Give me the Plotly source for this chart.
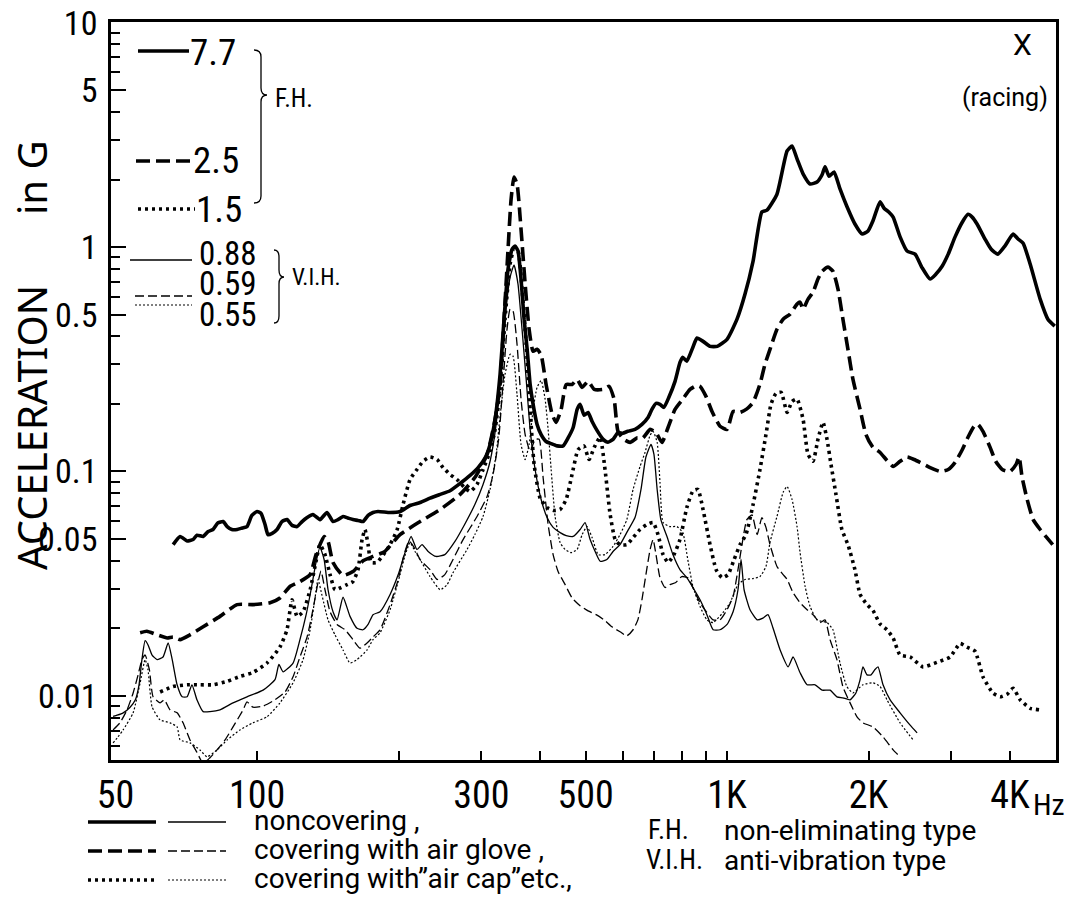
import numpy as np
import plotly.graph_objects as go

# ---------------- data (frequency in Hz, acceleration in G) ----------------
# F.H. (non-eliminating type) - noncovering (thick solid)
fh_nc_freq = [66.3, 68.6, 71.0, 73.1, 74.5, 76.8, 78.7, 80.6, 82.6, 84.7,
              86.4, 88.4, 90.7, 93.0, 95.2, 97.5, 100, 102, 104, 105.5,
              107.7, 110.3, 113, 115.8, 118.7, 121.7, 124.7, 127.8, 131.5, 136.1,
              140.9, 145.1, 148.7, 152.4, 156.1, 160, 164, 168.1, 172.3, 176.5,
              180.9, 191.9, 201.5, 211.6, 222.3, 233.4, 245.2, 257.4, 270.4, 284,
              295.4, 305.7, 313.2, 321, 328.9, 335.4, 342, 349, 353.9, 359.1,
              364.5, 370, 375.6, 381.1, 386.7, 394.3, 402.2, 412.1, 422.4, 434.9,
              448, 459, 470.5, 479.8, 486.8, 496.4, 506.2, 516.3, 529.2, 545,
              558, 572, 586, 600, 615, 637, 659, 679, 692, 706,
              720, 734, 752, 775, 794, 805, 821, 846, 863, 889,
              920, 953, 1000, 1050, 1092, 1136, 1186, 1216, 1277, 1342,
              1375, 1409, 1451, 1502, 1554, 1593, 1616, 1648, 1689, 1739,
              1798, 1871, 1939, 1995, 2044, 2116, 2158, 2211, 2256, 2334,
              2415, 2512, 2599, 2704, 2783, 2870, 2955, 3056, 3165, 3255,
              3323, 3403, 3538, 3644, 3767, 3900, 4060, 4160, 4265, 4414,
              4636, 4815, 4980]
fh_nc_acc = [0.0472, 0.0513, 0.049, 0.0497, 0.052, 0.0513, 0.054, 0.0551, 0.059, 0.0598,
             0.0568, 0.0551, 0.0551, 0.056, 0.0568, 0.0637, 0.0663, 0.065, 0.058, 0.0523,
             0.053, 0.0551, 0.0598, 0.061, 0.0575, 0.0568, 0.0598, 0.0623, 0.0643, 0.061,
             0.0656, 0.0598, 0.061, 0.063, 0.062, 0.061, 0.0605, 0.0598, 0.0637, 0.0656,
             0.0663, 0.0656, 0.0663, 0.0705, 0.0727, 0.076, 0.079, 0.082, 0.0884, 0.096,
             0.104, 0.115, 0.132, 0.171, 0.271, 0.477, 0.798, 0.98, 1.01, 0.96,
             0.72, 0.477, 0.35, 0.244, 0.199, 0.162, 0.146, 0.136, 0.133, 0.13,
             0.13, 0.141, 0.157, 0.189, 0.199, 0.178, 0.183, 0.167, 0.152, 0.139,
             0.135, 0.139, 0.149, 0.148, 0.151, 0.154, 0.162, 0.174, 0.189, 0.201,
             0.199, 0.193, 0.214, 0.252, 0.306, 0.323, 0.31, 0.358, 0.393, 0.38,
             0.361, 0.361, 0.388, 0.477, 0.617, 0.866, 1.433, 1.46, 1.72, 2.68,
             2.82, 2.47, 2.12, 1.91, 1.95, 2.1, 2.28, 2.07, 2.16, 1.815,
             1.52, 1.267, 1.143, 1.18, 1.31, 1.59, 1.49, 1.43, 1.36, 1.11,
             0.96, 0.93, 0.81, 0.72, 0.758, 0.823, 0.93, 1.11, 1.29, 1.40,
             1.36, 1.267, 1.086, 0.98, 0.93, 1.01, 1.143, 1.086, 1.04, 0.84,
             0.586, 0.477, 0.444]

# F.H. - covering with air glove (thick dashed)
fh_glove_freq = [56.4, 58.3, 61.3, 64.4, 66.3, 68.6, 72, 76.8, 83.4, 90.7,
                 98, 106.6, 111.9, 117.5, 123.4, 129.7, 133.5, 138.9, 141.6, 145.1,
                 152.4, 160, 168.1, 176.5, 187, 201.5, 222.3, 245.2, 270.4, 290.7,
                 308.7, 321, 328.9, 335.4, 342, 347.2, 352.2, 357.4, 364.5, 371.9,
                 379.2, 386.7, 394.3, 402.2, 412.1, 424.4, 432.8, 443.6, 454.7, 468,
                 479.8, 491.6, 506.2, 521.8, 545, 561, 575, 586, 603, 622,
                 643, 662, 686, 706, 727, 749, 775, 805, 834, 863,
                 876, 902, 929, 966, 1000, 1030, 1066, 1102, 1136, 1175,
                 1204, 1234, 1277, 1316, 1361, 1409, 1430, 1451, 1487, 1524,
                 1561, 1593, 1640, 1680, 1722, 1764, 1808, 1853, 1919, 1975,
                 2044, 2116, 2189, 2256, 2334, 2415, 2500, 2574, 2704, 2840,
                 2955, 3056, 3165, 3255, 3355, 3420, 3503, 3628, 3728, 3850,
                 4002, 4120, 4180, 4244, 4350, 4480, 4636, 4790, 4930]
fh_glove_acc = [0.0191, 0.0194, 0.0187, 0.0181, 0.0183, 0.0178, 0.0187, 0.0203, 0.0226, 0.0255,
                0.0255, 0.026, 0.0273, 0.0307, 0.0323, 0.0347, 0.0426, 0.0513, 0.0488, 0.0393,
                0.0344, 0.0358, 0.040, 0.0418, 0.044, 0.0523, 0.0598, 0.0677, 0.079, 0.094,
                0.119, 0.171, 0.244, 0.477, 0.98, 1.64, 2.05, 1.91, 1.20, 0.684,
                0.43, 0.343, 0.35, 0.33, 0.244, 0.18, 0.1655, 0.189, 0.244, 0.244,
                0.257, 0.237, 0.252, 0.232, 0.232, 0.2395, 0.21, 0.151, 0.139, 0.1347,
                0.141, 0.141, 0.154, 0.149, 0.1347, 0.157, 0.189, 0.21, 0.232, 0.242,
                0.2395, 0.216, 0.185, 0.159, 0.154, 0.185, 0.1834, 0.19, 0.203, 0.245,
                0.30, 0.35, 0.43, 0.477, 0.502, 0.557, 0.568, 0.529, 0.586, 0.63,
                0.72, 0.78, 0.814, 0.78, 0.649, 0.477, 0.35, 0.257, 0.189, 0.146,
                0.128, 0.1215, 0.112, 0.1053, 0.111, 0.116, 0.113, 0.1097, 0.104, 0.10,
                0.102, 0.1097, 0.125, 0.142, 0.159, 0.162, 0.151, 0.128, 0.111, 0.102,
                0.10, 0.1075, 0.116, 0.094, 0.075, 0.061, 0.0551, 0.0507, 0.0472]

# F.H. - covering with "air cap" etc. (thick dotted)
fh_cap_freq = [62.2, 66.3, 71, 75.6, 80.6, 86.4, 92, 98, 105, 111.9,
               115.8, 118.7, 121.7, 125.3, 129.7, 133.5, 136.1, 139.5, 143, 146.5,
               151, 155.4, 160, 164, 167.3, 169.7, 172.3, 174.8, 180, 185.8,
               191.9, 198.7, 204.5, 211.6, 218.9, 225.6, 233.4, 241.6, 248.8, 257.4,
               266.4, 276, 284, 293.8, 302.6, 313.2, 321, 328.9, 337, 345.5,
               352.2, 359.1, 366.3, 373.8, 381.1, 388.6, 400.2, 414.1, 428.6, 441.4,
               454.7, 468, 482, 496, 508.7, 521.6, 537, 550, 564, 578,
               592, 612, 631, 653, 675, 696, 713, 731, 749, 771,
               794, 821, 846, 867, 889, 920, 948, 976, 1005, 1035,
               1066, 1097, 1136, 1175, 1210, 1240, 1271, 1303, 1342, 1375,
               1409, 1451, 1487, 1524, 1561, 1600, 1632, 1664, 1705, 1755,
               1808, 1871, 1919, 1985, 2044, 2116, 2189, 2256, 2334, 2452,
               2611, 2796, 2983, 3132, 3238, 3370, 3503, 3676, 3811, 3950,
               4060, 4203, 4414, 4636]
fh_cap_acc = [0.0104, 0.011, 0.0112, 0.0112, 0.0112, 0.0116, 0.0122, 0.0127, 0.014, 0.0165,
              0.0197, 0.0268, 0.0226, 0.0237, 0.0297, 0.0397, 0.0472, 0.0426, 0.0347, 0.0297,
              0.0304, 0.0313, 0.0323, 0.0365, 0.0497, 0.0551, 0.0472, 0.0393, 0.0393, 0.0426,
              0.0472, 0.0551, 0.0712, 0.092, 0.102, 0.111, 0.116, 0.113, 0.104, 0.097,
              0.092, 0.085, 0.0814, 0.0875, 0.102, 0.123, 0.154, 0.232, 0.477, 0.84,
              0.98, 0.96, 0.649, 0.369, 0.189, 0.1075, 0.076, 0.069, 0.067, 0.0677,
              0.075, 0.097, 0.125, 0.13, 0.113, 0.128, 0.142, 0.102, 0.0643, 0.0497,
              0.0472, 0.0472, 0.0507, 0.0551, 0.058, 0.0592, 0.0523, 0.0426, 0.0393, 0.0426,
              0.0497, 0.069, 0.0818, 0.0831, 0.0677, 0.0472, 0.0365, 0.0336, 0.0347, 0.0405,
              0.0472, 0.0523, 0.0712, 0.102, 0.146, 0.199, 0.223, 0.2253, 0.1834, 0.205,
              0.21, 0.171, 0.119, 0.111, 0.139, 0.1655, 0.139, 0.1075, 0.079, 0.0551,
              0.0472, 0.0365, 0.0283, 0.0255, 0.024, 0.0209, 0.0197, 0.0181, 0.0152, 0.0149,
              0.01346, 0.0141, 0.0149, 0.0171, 0.0165, 0.0158, 0.01216, 0.0103, 0.0099, 0.0102,
              0.0108, 0.0096, 0.0088, 0.00866]

# V.I.H. (anti-vibration type) - noncovering (thin solid)
vih_nc_freq = [49.4, 50.4, 51.9, 53.7, 55.1, 56.1, 56.9, 57.8, 58.6, 59.8,
               61.3, 63.1, 64.7, 66, 67.6, 69.3, 71, 72.7, 74.5, 76.8,
               79.4, 83.4, 88.9, 95.2, 103, 109.2, 111.3, 113.6, 119.3, 123.4,
               127.2, 130.3, 133.5, 136.1, 138.9, 141.6, 145.1, 148, 152.4, 157.7,
               163.2, 168.1, 172.3, 176.5, 182.7, 191.9, 199.7, 206.5, 212.7, 218.9,
               224.4, 231.2, 240.4, 250.9, 263.7, 276.3, 290.7, 302.6, 313.2, 322.6,
               330.5, 338.6, 345.5, 352.2, 359.1, 366.3, 373.8, 381.1, 390.5, 402.2,
               414.1, 426.5, 441.4, 454.7, 470.5, 486.8, 498.8, 511.3, 524, 537,
               555, 572, 592, 615, 637, 656, 672, 689, 699, 710,
               723, 745, 767, 794, 821, 846, 876, 906, 934, 966,
               1000, 1030, 1055, 1071, 1087, 1119, 1159, 1192, 1222, 1252,
               1297, 1349, 1382, 1430, 1480, 1539, 1593, 1656, 1713, 1764,
               1827, 1880, 1919, 1946, 1985, 2025, 2064, 2095, 2147, 2223,
               2334, 2452, 2537]
vih_nc_acc = [0.0081, 0.0082, 0.0084, 0.0089, 0.0096, 0.0112, 0.0145, 0.0176, 0.0169, 0.0152,
              0.0145, 0.0149, 0.0172, 0.0145, 0.0112, 0.0099, 0.0099, 0.0112, 0.0096, 0.0085,
              0.0085, 0.00866, 0.0093, 0.0099, 0.0106, 0.0118, 0.0138, 0.0128, 0.014, 0.0178,
              0.023, 0.0297, 0.0393, 0.046, 0.0405, 0.0297, 0.0237, 0.0218, 0.0275, 0.0226,
              0.02, 0.0197, 0.0208, 0.023, 0.0237, 0.0283, 0.0347, 0.0435, 0.0513, 0.0449,
              0.0472, 0.044, 0.0418, 0.0426, 0.0488, 0.0579, 0.0712, 0.0875, 0.111, 0.162,
              0.285, 0.529, 0.735, 0.831, 0.684, 0.43, 0.257, 0.154, 0.102, 0.075,
              0.0623, 0.0563, 0.0534, 0.0518, 0.0513, 0.0551, 0.0592, 0.0497, 0.044, 0.0398,
              0.0405, 0.044, 0.0472, 0.0545, 0.0623, 0.0831, 0.116, 0.132, 0.119, 0.0831,
              0.061, 0.0513, 0.0426, 0.0365, 0.0336, 0.0304, 0.0268, 0.023, 0.0197, 0.0197,
              0.0208, 0.0237, 0.0297, 0.0405, 0.0297, 0.0242, 0.0218, 0.0222, 0.023, 0.0201,
              0.016, 0.01346, 0.0149, 0.01267, 0.0112, 0.0112, 0.0106, 0.0106, 0.0099, 0.0098,
              0.0096, 0.0103, 0.0118, 0.01346, 0.0124, 0.0124, 0.0131, 0.01346, 0.0112, 0.0096,
              0.0084, 0.0074, 0.00684]

# V.I.H. - covering with air glove (thin dashed)
vih_glove_freq = [49.4, 51.1, 52.9, 54.5, 55.9, 56.9, 57.8, 59, 60.1, 62.2,
                  63.5, 65.3, 67.6, 69.6, 72, 74.5, 76.8, 79.4, 82.2, 85.5,
                  88.9, 93.4, 95.2, 98, 103, 109.2, 114.7, 119.3, 123.4, 127.8,
                  131.5, 134.8, 136.8, 139.5, 143, 148, 153.9, 160, 165.6, 171.4,
                  176.5, 182.7, 191.9, 199.7, 205.5, 210.6, 215.8, 222.3, 233.4, 241.6,
                  250.9, 261.2, 274.4, 293.8, 308.7, 317.8, 326.6, 333.8, 340.3, 345.5,
                  350.5, 357.4, 364.5, 371.9, 381.1, 390.5, 398.3, 406.1, 416.2, 426.5,
                  437, 452.4, 468, 486.8, 506.2, 526.6, 547.6, 569, 592, 612,
                  631, 646, 659, 672, 686, 696, 706, 720, 738, 756,
                  778, 801, 825, 850, 876, 906, 934, 966, 1000, 1030,
                  1055, 1076, 1102, 1130, 1159, 1186, 1210, 1234, 1277, 1316,
                  1342, 1382, 1430, 1480, 1524, 1577, 1616, 1656, 1713, 1764,
                  1827, 1890, 1946, 2044, 2147, 2256, 2334]
vih_glove_acc = [0.00705, 0.00758, 0.00866, 0.0103, 0.0125, 0.0145, 0.0152, 0.0131, 0.0099, 0.0093,
                 0.0096, 0.00866, 0.0084, 0.00758, 0.00636, 0.0056, 0.0050, 0.0053, 0.00574, 0.00636,
                 0.00727, 0.00866, 0.0094, 0.0089, 0.009, 0.0096, 0.0104, 0.01216, 0.0149, 0.0183,
                 0.0242, 0.032, 0.036, 0.0297, 0.0237, 0.0208, 0.0197, 0.0178, 0.0163, 0.0172,
                 0.0183, 0.0197, 0.0255, 0.033, 0.0426, 0.049, 0.0459, 0.0405, 0.0365, 0.033,
                 0.0347, 0.0405, 0.0497, 0.063, 0.0773, 0.097, 0.139, 0.25, 0.43, 0.529,
                 0.518, 0.369, 0.21, 0.146, 0.123, 0.139, 0.139, 0.094, 0.058, 0.0426,
                 0.0358, 0.0313, 0.0273, 0.0252, 0.0239, 0.023, 0.0218, 0.0203, 0.0193, 0.0185,
                 0.0197, 0.0218, 0.0268, 0.0347, 0.0449, 0.0497, 0.0426, 0.0336, 0.0304, 0.0313,
                 0.032, 0.034, 0.0336, 0.0297, 0.026, 0.0235, 0.0218, 0.0218, 0.0242, 0.0277,
                 0.0365, 0.0472, 0.061, 0.064, 0.0523, 0.0623, 0.0563, 0.0472, 0.0377, 0.0347,
                 0.033, 0.0288, 0.026, 0.0242, 0.023, 0.0212, 0.0218, 0.0178, 0.0145, 0.01097,
                 0.0093, 0.00806, 0.00758, 0.00727, 0.00656, 0.00574, 0.00535]

# V.I.H. - covering with "air cap" etc. (thin dotted)
vih_cap_freq = [49.4, 50.6, 51.9, 54.5, 56.4, 57.8, 58.6, 59.8, 62.2, 65.3,
                67.6, 68.6, 72, 75.6, 78.3, 82.2, 86.4, 92, 98, 105,
                111.9, 119.3, 125.3, 129.7, 133, 134.8, 137.5, 141.6, 146.5, 152.4,
                157.7, 163.2, 171.4, 176.5, 182.7, 191.9, 201.5, 206.5, 211.6, 216.8,
                222.3, 233.4, 245.2, 253.7, 261.2, 279.8, 290.7, 302.6, 313.2, 322.6,
                328.9, 337, 345.5, 350.5, 357.4, 364.5, 371.9, 379.2, 386.7, 394.3,
                402.2, 410.1, 416.2, 422.4, 430.7, 441.4, 452.4, 465.9, 479.8, 491.6,
                503.7, 516.3, 532, 550, 572, 592, 612, 631, 653, 669,
                686, 696, 710, 720, 731, 756, 782, 805, 825, 846,
                876, 906, 934, 980, 1015, 1055, 1092, 1136, 1175, 1210,
                1234, 1277, 1316, 1342, 1375, 1409, 1430, 1466, 1502, 1554,
                1632, 1680, 1739, 1798, 1853, 1946, 2044, 2116, 2189, 2334,
                2488]
vih_cap_acc = [0.00617, 0.00656, 0.00705, 0.0084, 0.01143, 0.0145, 0.0131, 0.00893, 0.00781, 0.00758,
               0.00727, 0.00636, 0.00617, 0.00574, 0.00535, 0.00574, 0.00636, 0.00705, 0.00758, 0.00806,
               0.0093, 0.01143, 0.0145, 0.0197, 0.0277, 0.033, 0.028, 0.0218, 0.0187, 0.016,
               0.014, 0.0145, 0.016, 0.0178, 0.0191, 0.0242, 0.0347, 0.0422, 0.0482, 0.044,
               0.0405, 0.034, 0.0297, 0.0313, 0.0354, 0.0449, 0.0523, 0.063, 0.0831, 0.119,
               0.176, 0.271, 0.333, 0.326, 0.22, 0.132, 0.113, 0.132, 0.189, 0.237,
               0.254, 0.21, 0.154, 0.102, 0.063, 0.0482, 0.0449, 0.0435, 0.0449, 0.0523,
               0.0568, 0.0507, 0.0426, 0.0426, 0.0463, 0.0523, 0.061, 0.0831, 0.1053, 0.1215,
               0.145, 0.151, 0.1347, 0.0893, 0.0592, 0.0568, 0.0568, 0.0534, 0.0405, 0.0307,
               0.025, 0.0218, 0.0212, 0.0235, 0.026, 0.0313, 0.033, 0.0333, 0.034, 0.0377,
               0.0482, 0.063, 0.0806, 0.0857, 0.075, 0.0568, 0.0435, 0.0307, 0.025, 0.0218,
               0.0212, 0.0197, 0.014, 0.011, 0.0103, 0.0112, 0.01143, 0.011, 0.0096, 0.00758,
               0.00636]

# tick labels
x_tick_vals = [50, 100, 300, 500, 1000, 2000, 4000]
x_tick_text = ["50", "100", "300", "500", "1K", "2K", "4K"]
x_minor_vals = [100, 200, 300, 400, 500, 600, 700, 800, 900, 1000, 2000, 3000, 4000]
y_tick_vals = [0.01, 0.05, 0.1, 0.5, 1, 5, 10]
y_tick_text = ["0.01", "0.05", "0.1", "0.5", "1", "5", "10"]
y_minor_vals = [m * d for d in (0.001, 0.01, 0.1, 1) for m in range(2, 10) if m * d > 0.0052]

# legend values shown inside the chart
fh_labels = ["7.7", "2.5", "1.5"]
vih_labels = ["0.88", "0.59", "0.55"]
cover_labels = ["noncovering ,", "covering with air glove ,", "covering with\u201dair cap\u201detc.,"]

# ---------------- layout geometry (screen pixels) ----------------
OFF = 8                      # browser body margin
W, H = 1075 - OFF, 908 - OFF  # figure size
L, R, T, B = 111, 1056, 22, 760   # plot area on screen
COND = "Roboto Condensed, Roboto, sans-serif"
SANS = "Roboto, sans-serif"
TITLE = "Noto Sans, sans-serif"


def px(x):
    return (x - L) / (R - L)


def py(y):
    return (B - y) / (B - T)


THICK = 3.6
THIN = 1.3
styles = {
    "solid_thick": dict(width=THICK, dash="solid"),
    "dash_thick": dict(width=THICK, dash="14px,6px"),
    "dot_thick": dict(width=THICK, dash="3px,4px"),
    "solid_thin": dict(width=THIN, dash="solid"),
    "dash_thin": dict(width=THIN, dash="9px,4px"),
    "dot_thin": dict(width=1.2, dash="2px,2px"),
}

series = [
    (fh_nc_freq, fh_nc_acc, "solid_thick"),
    (fh_glove_freq, fh_glove_acc, "dash_thick"),
    (fh_cap_freq, fh_cap_acc, "dot_thick"),
    (vih_nc_freq, vih_nc_acc, "solid_thin"),
    (vih_glove_freq, vih_glove_acc, "dash_thin"),
    (vih_cap_freq, vih_cap_acc, "dot_thin"),
]

fig = go.Figure()
for fx, ay, st in series:
    fig.add_trace(go.Scatter(
        x=fx, y=ay, mode="lines",
        line=dict(color="black", shape="spline", smoothing=0.5, **styles[st]),
        hoverinfo="skip", showlegend=False))

shapes = []
annotations = []


def seg(x0, x1, y, st):
    s = styles[st]
    shapes.append(dict(type="line", xref="paper", yref="paper",
                       x0=px(x0), x1=px(x1), y0=py(y), y1=py(y),
                       line=dict(color="black", width=s["width"], dash=s["dash"])))


def text(x, y, t, size, family=COND, xanchor="left", angle=0):
    annotations.append(dict(xref="paper", yref="paper", x=px(x), y=py(y), text=t,
                            showarrow=False, xanchor=xanchor, yanchor="middle",
                            textangle=angle,
                            font=dict(family=family, size=size, color="black")))


def brace(x0, y0, y1, ytip, w=7, tip=6):
    xm = x0 + w
    r = 7
    pts = [
        f"M {px(x0)},{py(y0)}",
        f"Q {px(xm)},{py(y0)} {px(xm)},{py(y0 + r)}",
        f"L {px(xm)},{py(ytip - r)}",
        f"Q {px(xm)},{py(ytip)} {px(xm + tip)},{py(ytip)}",
        f"Q {px(xm)},{py(ytip)} {px(xm)},{py(ytip + r)}",
        f"L {px(xm)},{py(y1 - r)}",
        f"Q {px(xm)},{py(y1)} {px(x0)},{py(y1)}",
    ]
    shapes.append(dict(type="path", xref="paper", yref="paper", path=" ".join(pts),
                       line=dict(color="black", width=1.3)))


# inner legend (upper left)
seg(138, 189, 51, "solid_thick"); text(188, 53, fh_labels[0], 37)
seg(136, 192, 161, "dash_thick"); text(191, 161, fh_labels[1], 37)
seg(138, 195, 209, "dot_thick"); text(194, 209, fh_labels[2], 37)
brace(254, 50, 203, 95)
text(273, 98, "F.H.", 25)
seg(130, 192, 260, "solid_thin"); text(197, 253, vih_labels[0], 33)
seg(135, 192, 296, "dash_thin"); text(197, 283, vih_labels[1], 33)
seg(135, 192, 305, "dot_thin"); text(197, 314, vih_labels[2], 33)
brace(274, 250, 323, 277, w=5, tip=5)
text(290, 277, "V.I.H.", 23)

# top right
text(1022, 44, "X", 30, family=SANS, xanchor="center")
text(1005, 97, "(racing)", 25, family=SANS, xanchor="center")

# axis title
text(31, 428, "ACCELERATION", 40, family=TITLE, xanchor="center", angle=-90)
text(31, 178, "in G", 40, family=TITLE, xanchor="center", angle=-90)

# Hz unit
text(1049, 804, "Hz", 30, xanchor="center")

# bottom legend
rows = [(822, "solid_thick", "solid_thin"), (851, "dash_thick", "dash_thin"),
        (880, "dot_thick", "dot_thin")]
for (yy, s1, s2), lab in zip(rows, cover_labels):
    seg(88, 156, yy, s1)
    seg(168, 226, yy, s2)
    text(252, yy - 2, lab, 28, family=SANS)
text(646, 830, "F.H.", 27)
text(722, 830, "non-eliminating type", 28, family=SANS)
text(644, 860, "V.I.H.", 27)
text(722, 860, "anti-vibration type", 28, family=SANS)

fig.update_layout(
    width=W, height=H,
    margin=dict(l=L - OFF, r=W - (R - OFF), t=T - OFF, b=H - (B - OFF), pad=0,
                autoexpand=False),
    paper_bgcolor="white", plot_bgcolor="white",
    showlegend=False, shapes=shapes, annotations=annotations,
)
fig.update_xaxes(
    type="log", range=[np.log10(48.9), np.log10(5010)], automargin=False,
    tickmode="array", tickvals=x_tick_vals, ticktext=x_tick_text,
    ticks="", showgrid=False, zeroline=False,
    showline=True, linecolor="black", linewidth=2.5, mirror=True,
    tickfont=dict(family=COND, size=38, color="black"),
    ticklabelstandoff=0, ticklabeloverflow="allow",
    minor=dict(tickmode="array", tickvals=x_minor_vals, ticks="inside",
               ticklen=9, tickwidth=2, tickcolor="black", showgrid=False),
)
fig.update_yaxes(
    type="log", range=[-2.286, 1.003], automargin=False,
    tickmode="array", tickvals=y_tick_vals, ticktext=y_tick_text,
    ticks="inside", ticklen=15, tickwidth=2, tickcolor="black",
    showgrid=False, zeroline=False,
    showline=True, linecolor="black", linewidth=2.5, mirror=True,
    tickfont=dict(family=COND, size=34, color="black"),
    ticklabelstandoff=4, ticklabeloverflow="allow",
    minor=dict(tickmode="array", tickvals=y_minor_vals, ticks="inside",
               ticklen=9, tickwidth=2, tickcolor="black", showgrid=False),
)

fig.write_html("out.html")
